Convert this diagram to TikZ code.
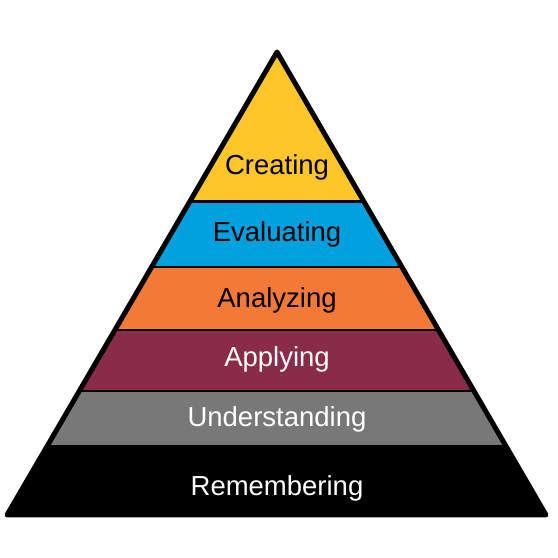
\documentclass[tikz,border=0pt]{standalone}
\usepackage{fontspec}
\setmainfont{Liberation Sans}
\usepackage{xcolor}
\usetikzlibrary{calc}
\definecolor{creatc}{HTML}{FFC629}
\definecolor{evalc}{HTML}{00A1DE}
\definecolor{analc}{HTML}{F27A36}
\definecolor{applc}{HTML}{8A2B48}
\definecolor{undc}{HTML}{787878}
\definecolor{remc}{HTML}{000000}
\tikzset{
  sep/.style={line width=2.5pt,black},
  rim/.style={line width=5pt,black,line join=round},
  lbl/.style={anchor=base,inner sep=0pt,font=\fontsize{27.5}{30}\selectfont}
}

\begin{document}
\begin{tikzpicture}[x=1pt,y=1pt]
\useasboundingbox (0,0) rectangle (558,558);
\coordinate (apex) at (277,506);
\coordinate (bl) at (7,43);
\coordinate (br) at (546,43);
% layers, top to bottom
\foreach \ta/\tb/\col in {0/0.3229/creatc,0.3229/0.4644/evalc,0.4644/0.6004/analc,0.6004/0.7322/applc,0.7322/0.8510/undc,0.8510/1/remc}{
  \fill[\col] ($(apex)!\ta!(bl)$) -- ($(apex)!\tb!(bl)$) -- ($(apex)!\tb!(br)$) -- ($(apex)!\ta!(br)$) -- cycle;}
\foreach \t in {0.3229,0.4644,0.6004,0.7322,0.8510}{
  \draw[sep] ($(apex)!\t!(bl)$) -- ($(apex)!\t!(br)$);}
\draw[rim] (apex) -- (bl) -- (br) -- cycle;
\node[lbl] (creating) at (277,383) {Creating};
\node[lbl] (evaluating) at (277,316) {Evaluating};
\node[lbl] (analyzing) at (277,250) {Analyzing};
\node[lbl,white] (applying) at (277,191) {Applying};
\node[lbl,white] (understanding) at (277,131) {Understanding};
\node[lbl,white] (remembering) at (277,62) {Remembering};
\end{tikzpicture}
\end{document}
